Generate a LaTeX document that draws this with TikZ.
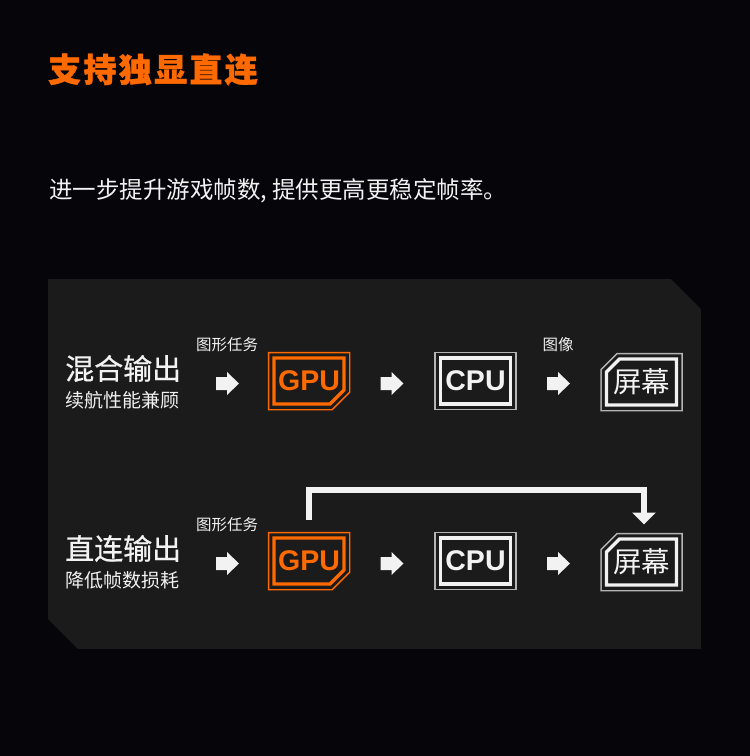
\documentclass[tikz,border=0pt]{standalone}
\usepackage{fontspec}
\usetikzlibrary{arrows.meta,backgrounds}
\newfontfamily\cjk{Noto Sans CJK SC}
\newfontfamily\latin{Liberation Sans}
\definecolor{pagebg}{HTML}{05050A}
\definecolor{panel}{HTML}{1B1B1B}
\definecolor{accent}{HTML}{FF6A00}
\definecolor{rim}{HTML}{B4B4B4}
\definecolor{ink}{HTML}{F2F2F2}
\tikzset{
  headline/.style={anchor=west, inner sep=0pt, text=accent, font=\cjk\bfseries\fontsize{33}{33}\selectfont\addfontfeatures{LetterSpace=7,FakeBold=1.2}},
  lead/.style={anchor=west, inner sep=0pt, text=ink, font=\cjk\fontsize{23.5}{23.5}\selectfont},
  rowhead/.style={anchor=west, inner sep=0pt, text=ink, font=\cjk\fontsize{29}{29}\selectfont\addfontfeatures{FakeBold=0.6}},
  rowsub/.style={anchor=west, inner sep=0pt, text=ink, font=\cjk\fontsize{19}{19}\selectfont},
  tag/.style={inner sep=0pt, text=ink, font=\cjk\fontsize{15.5}{15.5}\selectfont},
  chip/.style={minimum width=70pt, minimum height=46pt, inner sep=0pt, outer sep=0pt, font=\latin\bfseries\fontsize{28.5}{28.5}\selectfont},
  screen/.style={chip, text=ink, font=\cjk\fontsize{28.5}{28.5}\selectfont},
  gpuframe/.style={fill=panel, draw=accent, line width=3.4pt, line join=miter,
    preaction={draw=accent, line width=12.5pt, line join=miter},
    preaction={draw=panel, line width=9.5pt, line join=miter}},
  cpuframe/.style={fill=panel, draw=ink, line width=3.4pt, line join=miter,
    preaction={draw=rim, line width=12.5pt, line join=miter},
    preaction={draw=panel, line width=9.5pt, line join=miter}},
  blockarrow/.style={fill=ink},
  bypass/.style={draw=ink, line width=6pt, line join=miter, shorten <=18.5pt, shorten >=14.5pt,
    -{Triangle[width=23pt,length=12pt]}}
}
\begin{document}
\begin{tikzpicture}[x=1pt, y=-1pt]
        \useasboundingbox (0,0) rectangle (750,756);
        \node[headline] (title) at (48,69.5) {支持独显直连};
        \node[lead] (lead) at (49,190.5) {进一步提升游戏帧数, 提供更高更稳定帧率。};
        \node[rowhead] (mixhead) at (65,368.5) {混合输出};
        \node[rowsub] (mixsub) at (65,400) {续航性能兼顾};
        \node[rowhead] (directhead) at (65,548.5) {直连输出};
        \node[rowsub] (directsub) at (65,580) {降低帧数损耗};
        \node[tag] (task1) at (227,345) {图形任务};
        \node[tag] (picture1) at (558,345) {图像};
        \node[tag] (task2) at (227,525) {图形任务};
        \node[chip, text=accent] (gpu1) at (309,381) {GPU};
        \node[chip, text=ink] (cpu1) at (475.5,381) {CPU};
        \node[screen] (scr1) at (641.5,382) {屏幕};
        \node[chip, text=accent] (gpu2) at (309,561) {GPU};
        \node[chip, text=ink] (cpu2) at (475.5,561) {CPU};
        \node[screen] (scr2) at (641.5,562) {屏幕};
        \fill[blockarrow] (216,377) -- ++(11,0) -- ++(0,-5) -- ++(12,11.5) -- ++(-12,11.5) -- ++(0,-5) -- ++(-11,0) -- cycle;
        \fill[blockarrow] (380.5,377) -- ++(11,0) -- ++(0,-5) -- ++(12,11.5) -- ++(-12,11.5) -- ++(0,-5) -- ++(-11,0) -- cycle;
        \fill[blockarrow] (547,377) -- ++(11,0) -- ++(0,-5) -- ++(12,11.5) -- ++(-12,11.5) -- ++(0,-5) -- ++(-11,0) -- cycle;
        \fill[blockarrow] (216,557) -- ++(11,0) -- ++(0,-5) -- ++(12,11.5) -- ++(-12,11.5) -- ++(0,-5) -- ++(-11,0) -- cycle;
        \fill[blockarrow] (380.5,557) -- ++(11,0) -- ++(0,-5) -- ++(12,11.5) -- ++(-12,11.5) -- ++(0,-5) -- ++(-11,0) -- cycle;
        \fill[blockarrow] (547,557) -- ++(11,0) -- ++(0,-5) -- ++(12,11.5) -- ++(-12,11.5) -- ++(0,-5) -- ++(-11,0) -- cycle;
        \draw[bypass] (gpu2.north) -- ++(0,-48) -| ([xshift=2.5pt]scr2.north);
        \begin{scope}[on background layer]
          \fill[pagebg] (0,0) rectangle (750,756);
          \fill[panel] (48,279) -- (671,279) -- (701,309) -- (701,649) -- (78,649) -- (48,619) -- cycle;
          \draw[gpuframe] (gpu1.north west) -- (gpu1.north east) -- ([yshift=14pt]gpu1.south east) -- ([xshift=-14pt]gpu1.south east) -- (gpu1.south west) -- cycle;
          \draw[cpuframe] (cpu1.north west) rectangle (cpu1.south east);
          \draw[cpuframe] ([xshift=13pt]scr1.north west) -- (scr1.north east) -- (scr1.south east) -- (scr1.south west) -- ([yshift=-13pt]scr1.north west) -- cycle;
          \draw[gpuframe] (gpu2.north west) -- (gpu2.north east) -- ([yshift=14pt]gpu2.south east) -- ([xshift=-14pt]gpu2.south east) -- (gpu2.south west) -- cycle;
          \draw[cpuframe] (cpu2.north west) rectangle (cpu2.south east);
          \draw[cpuframe] ([xshift=13pt]scr2.north west) -- (scr2.north east) -- (scr2.south east) -- (scr2.south west) -- ([yshift=-13pt]scr2.north west) -- cycle;
        \end{scope}
\end{tikzpicture}
\end{document}
